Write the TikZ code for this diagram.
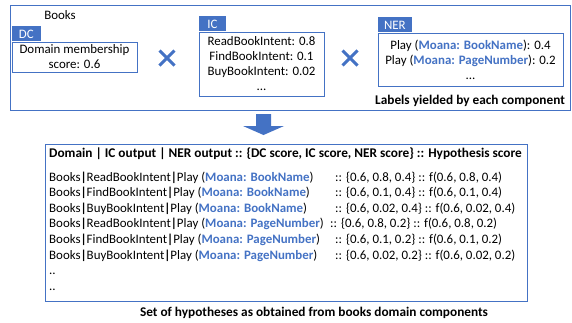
\documentclass[tikz,border=0pt]{standalone}
\usepackage{fontspec}
\setmainfont{Carlito}
\usepackage{xcolor}
\usepackage{tikz}
\usetikzlibrary{arrows.meta,positioning,shapes.misc}
\definecolor{ofblue}{HTML}{4472C4}
\newcommand{\ent}[1]{\textcolor{ofblue}{\textbf{#1}}}
\newcommand{\sep}{\textbf{|}}

\begin{document}
\begin{tikzpicture}[x=1pt,y=-1pt,font=\fontsize{12.9}{15}\selectfont,
  frame/.style={draw=ofblue,line width=0.7pt,inner sep=0pt},
  outbox/.style={frame,fill=white,align=center},
  tab/.style={fill=ofblue,text=white,inner sep=0pt,minimum height=15pt,anchor=south west},
  times/.style={cross out,draw=ofblue,line width=3pt,minimum size=12pt,inner sep=0pt},
  row/.style={anchor=base west,inner sep=0pt},
  caption/.style={font=\fontsize{13.3}{15}\selectfont\bfseries}]
\useasboundingbox (0,0) rectangle (572,322);
% top part: labels per component
\node[frame,minimum width=560pt,minimum height=105pt] (L) at (290,57.5) {};
\node (B) at (60,15) {Books};
\node[outbox,minimum width=125pt,minimum height=30pt] (DC) at (74.5,57)
  {Domain membership\\score: 0.6};
\node[tab,minimum width=29pt] (DCt) at (DC.north west) {DC};
\node[times] (X1) at (167,58) {};
\node[outbox,minimum width=125pt,minimum height=64pt] (IC) at (261.5,64)
  {ReadBookIntent: 0.8\\FindBookIntent: 0.1\\BuyBookIntent: 0.02\\...};
\node[tab,minimum width=27pt] (ICt) at (IC.north west) {IC};
\node[times] (X2) at (350,58) {};
\node[outbox,minimum width=185pt,minimum height=53pt] (NER) at (470.5,59.5)
  {Play (\ent{Moana: BookName}): 0.4\\Play (\ent{Moana: PageNumber}): 0.2\\...};
\node[tab,minimum width=34pt] (NERt) at (NER.north west) {NER};
\node[caption] (Lc) at (470,101) {Labels yielded by each component};
% block arrow
\fill[ofblue] (256,114) -- (271,114) -- (271,126) -- (284,126) -- (263.5,135)
  -- (243,126) -- (256,126) -- cycle;
% bottom part: hypotheses
\node[frame,minimum width=482pt,minimum height=157pt] (H) at (286,222.5) {};
\node[row,caption] (Hh) at (49,157)
  {Domain | IC output | NER output :: \{DC score, IC score, NER score\} :: Hypothesis score};
\foreach \i/\ic/\ne/\ics/\nes/\x in {0/ReadBookIntent/BookName/0.8/0.4/335,
    1/FindBookIntent/BookName/0.1/0.4/335,
    2/BuyBookIntent/BookName/0.02/0.4/335,
    3/ReadBookIntent/PageNumber/0.8/0.2/330,
    4/FindBookIntent/PageNumber/0.1/0.2/335,
    5/BuyBookIntent/PageNumber/0.02/0.2/335} {
  \node[row] (r\i) at (49,181+15.6*\i) {Books\sep\ic\sep Play (\ent{Moana: \ne})};
  \node[row] (s\i) at (\x,181+15.6*\i)
    {:: \{0.6, \ics, \nes\} :: f(0.6, \ics, \nes)};
}
\node[row] (d1) at (49,274.6) {..};
\node[row] (d2) at (49,290) {..};
\node[caption] (Hc) at (314,313)
  {Set of hypotheses as obtained from books domain components};
\end{tikzpicture}
\end{document}
